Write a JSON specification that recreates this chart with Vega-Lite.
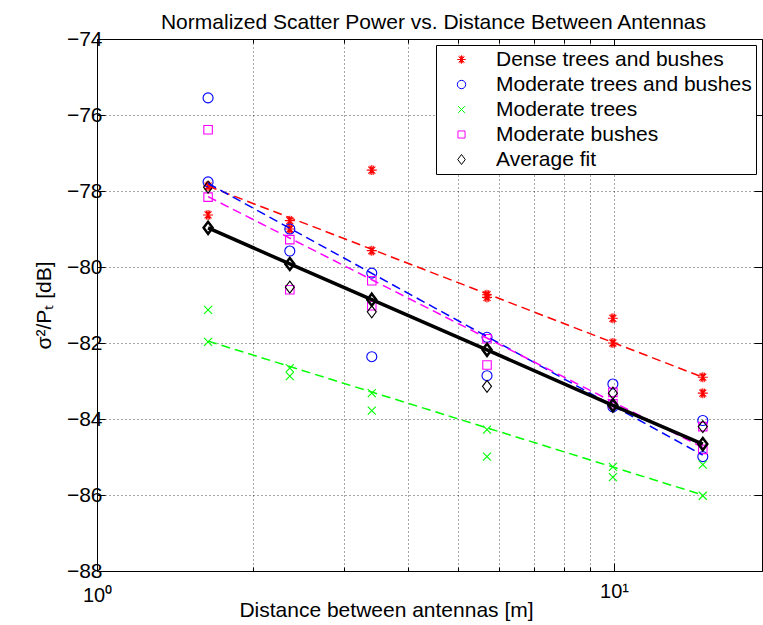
{
  "$schema": "https://vega.github.io/schema/vega-lite/v6.json",
  "width": 665,
  "height": 532,
  "autosize": {"type": "none"},
  "padding": {"left": 97, "top": 39, "right": 1, "bottom": 54},
  "background": "white",
  "config": {
    "font": "Liberation Sans",
    "view": {"stroke": null},
    "axis": {"domainColor": "black", "domainWidth": 1, "tickColor": "black", "tickWidth": 1, "labelColor": "black", "labelFontSize": 20, "labelFont": "Liberation Sans", "titleFont": "Liberation Sans", "titleFontSize": 20, "titleFontWeight": "normal", "titleColor": "black", "gridColor": "#000000", "gridDash": [1, 3], "gridOpacity": 0.7, "gridWidth": 1}
  },
  "datasets": {
    "pts": [
      {"d": 1.64, "v": -77.87, "s": "Dense trees and bushes"},
      {"d": 1.64, "v": -78.63, "s": "Dense trees and bushes"},
      {"d": 2.36, "v": -78.78, "s": "Dense trees and bushes"},
      {"d": 2.36, "v": -79.0, "s": "Dense trees and bushes"},
      {"d": 3.40, "v": -77.45, "s": "Dense trees and bushes"},
      {"d": 3.40, "v": -79.57, "s": "Dense trees and bushes"},
      {"d": 5.68, "v": -80.73, "s": "Dense trees and bushes"},
      {"d": 5.68, "v": -80.8, "s": "Dense trees and bushes"},
      {"d": 9.95, "v": -81.35, "s": "Dense trees and bushes"},
      {"d": 9.95, "v": -82.0, "s": "Dense trees and bushes"},
      {"d": 14.85, "v": -82.9, "s": "Dense trees and bushes"},
      {"d": 14.85, "v": -83.32, "s": "Dense trees and bushes"},
      {"d": 1.64, "v": -75.55, "s": "Moderate trees and bushes"},
      {"d": 1.64, "v": -77.76, "s": "Moderate trees and bushes"},
      {"d": 2.36, "v": -79.0, "s": "Moderate trees and bushes"},
      {"d": 2.36, "v": -79.58, "s": "Moderate trees and bushes"},
      {"d": 3.40, "v": -80.16, "s": "Moderate trees and bushes"},
      {"d": 3.40, "v": -82.36, "s": "Moderate trees and bushes"},
      {"d": 5.68, "v": -81.85, "s": "Moderate trees and bushes"},
      {"d": 5.68, "v": -82.86, "s": "Moderate trees and bushes"},
      {"d": 9.95, "v": -83.08, "s": "Moderate trees and bushes"},
      {"d": 9.95, "v": -83.68, "s": "Moderate trees and bushes"},
      {"d": 14.85, "v": -84.04, "s": "Moderate trees and bushes"},
      {"d": 14.85, "v": -84.99, "s": "Moderate trees and bushes"},
      {"d": 1.64, "v": -81.13, "s": "Moderate trees"},
      {"d": 1.64, "v": -81.97, "s": "Moderate trees"},
      {"d": 2.36, "v": -82.66, "s": "Moderate trees"},
      {"d": 2.36, "v": -82.87, "s": "Moderate trees"},
      {"d": 3.40, "v": -83.32, "s": "Moderate trees"},
      {"d": 3.40, "v": -83.78, "s": "Moderate trees"},
      {"d": 5.68, "v": -84.28, "s": "Moderate trees"},
      {"d": 5.68, "v": -84.99, "s": "Moderate trees"},
      {"d": 9.95, "v": -85.26, "s": "Moderate trees"},
      {"d": 9.95, "v": -85.53, "s": "Moderate trees"},
      {"d": 14.85, "v": -85.2, "s": "Moderate trees"},
      {"d": 14.85, "v": -86.02, "s": "Moderate trees"},
      {"d": 1.64, "v": -76.39, "s": "Moderate bushes"},
      {"d": 1.64, "v": -78.16, "s": "Moderate bushes"},
      {"d": 2.36, "v": -79.28, "s": "Moderate bushes"},
      {"d": 2.36, "v": -80.6, "s": "Moderate bushes"},
      {"d": 3.40, "v": -80.36, "s": "Moderate bushes"},
      {"d": 3.40, "v": -81.02, "s": "Moderate bushes"},
      {"d": 5.68, "v": -81.89, "s": "Moderate bushes"},
      {"d": 5.68, "v": -82.58, "s": "Moderate bushes"},
      {"d": 9.95, "v": -83.3, "s": "Moderate bushes"},
      {"d": 9.95, "v": -83.6, "s": "Moderate bushes"},
      {"d": 14.85, "v": -84.2, "s": "Moderate bushes"},
      {"d": 14.85, "v": -84.8, "s": "Moderate bushes"},
      {"d": 1.64, "v": -77.9, "s": "Average fit"},
      {"d": 2.36, "v": -80.53, "s": "Average fit"},
      {"d": 3.40, "v": -81.18, "s": "Average fit"},
      {"d": 5.68, "v": -83.14, "s": "Average fit"},
      {"d": 9.95, "v": -83.32, "s": "Average fit"},
      {"d": 14.85, "v": -84.2, "s": "Average fit"}
    ],
    "fits": [
      {"d": 1.64, "v": -77.87, "s": "Dense trees and bushes"},
      {"d": 14.85, "v": -82.9, "s": "Dense trees and bushes"},
      {"d": 1.64, "v": -77.8, "s": "Moderate trees and bushes"},
      {"d": 14.85, "v": -84.95, "s": "Moderate trees and bushes"},
      {"d": 1.64, "v": -81.95, "s": "Moderate trees"},
      {"d": 14.85, "v": -86.0, "s": "Moderate trees"},
      {"d": 1.64, "v": -78.15, "s": "Moderate bushes"},
      {"d": 14.85, "v": -84.75, "s": "Moderate bushes"}
    ],
    "avg": [
      {"d": 1.64, "v": -78.97},
      {"d": 2.36, "v": -79.92},
      {"d": 3.40, "v": -80.86},
      {"d": 5.68, "v": -82.18},
      {"d": 9.95, "v": -83.64},
      {"d": 14.85, "v": -84.66}
    ]
  },
  "resolve": {"axis": {"x": "independent", "y": "independent"}},
  "layer": [
    {
      "data": {"name": "pts"},
      "mark": {"type": "point", "filled": false, "strokeWidth": 1.1, "opacity": 1, "size": 100},
      "encoding": {
        "x": {"field": "d", "type": "quantitative",
          "scale": {"type": "log", "domain": [1, 19.33], "nice": false},
          "axis": {"orient": "bottom", "values": [1, 2, 3, 4, 5, 6, 7, 8, 9, 10],
            "labelExpr": "datum.value == 1 ? '10⁰' : (datum.value == 10 ? '10¹' : '')",
            "labelFlush": false, "labelOverlap": false, "labelBound": false,
            "tickSize": {"condition": {"test": "datum.value == 10", "value": -8}, "value": -4},
            "labelPadding": 18, "labelBaseline": "top",
            "grid": true,
            "title": "Distance between antennas [m]", "titleFontSize": 21, "titleY": 45, "titleX": 289, "titleBaseline": "alphabetic", "titleAlign": "center"}},
        "y": {"field": "v", "type": "quantitative",
          "scale": {"domain": [-88, -74], "nice": false, "zero": false},
          "axis": {"orient": "left", "values": [-88, -86, -84, -82, -80, -78, -76, -74], "format": "d",
            "tickSize": -8, "labelPadding": 3, "labelFontSize": 21, "labelFlush": false, "labelOverlap": false, "labelBound": false,
            "grid": true,
            "title": "σ²/Pₜ [dB]", "titleFontSize": 21, "titleX": -47, "titleY": 266, "titleAngle": -90, "titleBaseline": "alphabetic", "titleAlign": "center"}},
        "color": {"field": "s", "type": "nominal",
          "scale": {"domain": ["Dense trees and bushes", "Moderate trees and bushes", "Moderate trees", "Moderate bushes", "Average fit"],
            "range": ["#ff0000", "#0000ff", "#00ff00", "#ff00ff", "#000000"]},
          "legend": {"title": null, "orient": "none", "legendX": 339, "legendY": 6, "strokeColor": "black", "fillColor": "white", "padding": 4,
            "symbolOffset": 11, "labelOffset": 24, "rowPadding": 3, "labelFontSize": 21, "labelFont": "Liberation Sans", "labelColor": "black",
            "labelLimit": 400, "symbolSize": 70, "symbolStrokeWidth": 1, "cornerRadius": 0}},
        "shape": {"field": "s", "type": "nominal",
          "scale": {"domain": ["Dense trees and bushes", "Moderate trees and bushes", "Moderate trees", "Moderate bushes", "Average fit"],
            "range": ["M-1,0L1,0M0,-1L0,1M-0.7,-0.7L0.7,0.7M-0.7,0.7L0.7,-0.7M-0.4,-0.9L0.4,0.9M-0.4,0.9L0.4,-0.9", "circle", "M-0.8,-0.8L0.8,0.8M-0.8,0.8L0.8,-0.8", "M-0.85,-0.85L0.85,-0.85L0.85,0.85L-0.85,0.85Z", "M0,-1.2L0.9,0L0,1.2L-0.9,0Z"]},
          "legend": {"title": null, "orient": "none", "legendX": 339, "legendY": 6, "strokeColor": "black", "fillColor": "white", "padding": 4,
            "symbolOffset": 11, "labelOffset": 24, "rowPadding": 3, "labelFontSize": 21, "labelFont": "Liberation Sans", "labelColor": "black",
            "labelLimit": 400, "symbolSize": 70, "symbolStrokeWidth": 1, "cornerRadius": 0}}
      }
    },
    {
      "data": {"name": "fits"},
      "mark": {"type": "line", "strokeDash": [9, 5], "strokeWidth": 1.5},
      "encoding": {
        "x": {"field": "d", "type": "quantitative",
          "scale": {"type": "log", "domain": [1, 19.33], "nice": false},
          "axis": {"orient": "top", "values": [1, 2, 3, 4, 5, 6, 7, 8, 9, 10], "labels": false, "grid": false,
            "tickSize": {"condition": {"test": "datum.value == 10", "value": -8}, "value": -4},
            "title": "Normalized Scatter Power vs. Distance Between Antennas", "titleFontSize": 21, "titleY": -11, "titleX": 336, "titleBaseline": "alphabetic", "titleAlign": "center", "titleAngle": 0}},
        "y": {"field": "v", "type": "quantitative",
          "scale": {"domain": [-88, -74], "nice": false, "zero": false},
          "axis": {"orient": "right", "values": [-88, -86, -84, -82, -80, -78, -76, -74], "labels": false, "grid": false, "title": null, "tickSize": -8}},
        "color": {"field": "s", "type": "nominal",
          "scale": {"domain": ["Dense trees and bushes", "Moderate trees and bushes", "Moderate trees", "Moderate bushes", "Average fit"],
            "range": ["#ff0000", "#0000ff", "#00ff00", "#ff00ff", "#000000"]},
          "legend": null}
      }
    },
    {
      "data": {"name": "avg"},
      "mark": {"type": "line", "color": "black", "strokeWidth": 3.5},
      "encoding": {
        "x": {"field": "d", "type": "quantitative", "axis": null},
        "y": {"field": "v", "type": "quantitative", "axis": null}
      }
    },
    {
      "data": {"name": "avg"},
      "mark": {"type": "point", "filled": false, "color": "black", "strokeWidth": 2.5, "opacity": 1, "size": 100, "shape": "M0,-1.2L0.9,0L0,1.2L-0.9,0Z"},
      "encoding": {
        "x": {"field": "d", "type": "quantitative", "axis": null},
        "y": {"field": "v", "type": "quantitative", "axis": null}
      }
    }
  ]
}
